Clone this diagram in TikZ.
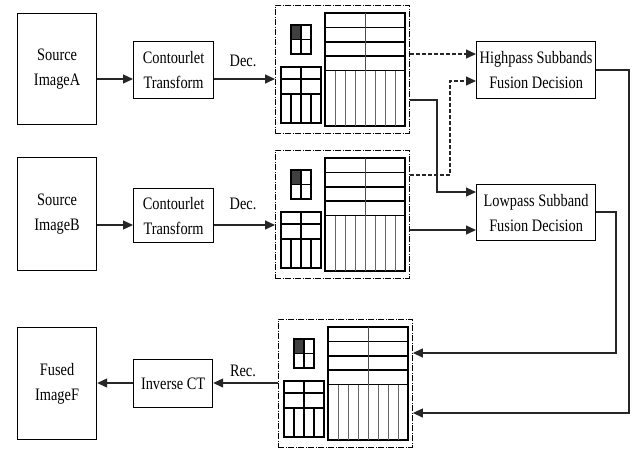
\documentclass[tikz,border=0pt]{standalone}
\usepackage{fontspec}
\setmainfont{Liberation Serif}[FakeStretch=0.82]
\usetikzlibrary{arrows.meta}
\tikzset{
  every node/.style={font=\fontsize{17.5}{25}\selectfont},
  box/.style={draw, line width=1.2pt, align=center, inner sep=0pt, anchor=north west},
  dashbox/.style={draw, line width=0.9pt, dash pattern=on 6pt off 1.5pt on 1pt off 1.5pt,
    anchor=north west, minimum width=134pt, minimum height=128pt, inner sep=0pt},
  arr/.style={line width=1.2pt, black!85, -{Triangle[length=10pt,width=9pt]}},
  darr/.style={arr, dash pattern=on 4pt off 2pt},
  thk/.style={line width=1.2pt},
  mid/.style={line width=0.8pt, black!70},
  thn/.style={line width=0.5pt, black!60},
  lbl/.style={inner sep=0pt},
}
\newcommand\subbandsdraw{%
  % small square
  \fill[black!75] (16,20) rectangle (26,34.5);
  \draw[thk] (16,20) rectangle (36,49);
  \draw[thk] (26,20) -- (26,49) (16,34.5) -- (36,34.5);
  % lower-left block
  \draw[thk] (6,62) rectangle (46,118);
  \draw[thk] (6,74) -- (46,74) (6,89) -- (46,89) (26,62) -- (26,118);
  \draw[thk] (16,89) -- (16,118) (36,89) -- (36,118);
  % big block
  \draw[thk] (50,8) rectangle (130,121);
  \foreach \yy in {22.5,37,51,65.5} {\draw[thk] (50,\yy) -- (130,\yy);}
  \draw[mid] (90,8) -- (90,65.5);
  \foreach \xx in {60,70,...,120} {\draw[thn] (\xx,65.5) -- (\xx,121);}
}
\begin{document}
\begin{tikzpicture}[x=1pt,y=-1pt]
\useasboundingbox (0,0) rectangle (632,451);
% nodes
\node[box, minimum width=79pt, minimum height=111pt] (srcA) at (17,13) {Source\\ImageA};
\node[box, minimum width=80pt, minimum height=57pt] (ctA) at (133,41) {Contourlet\\Transform};
\node[box, minimum width=79pt, minimum height=113pt] (srcB) at (17,157) {Source\\ImageB};
\node[box, minimum width=80pt, minimum height=54pt] (ctB) at (133,188) {Contourlet\\Transform};
\node[box, minimum width=79pt, minimum height=112pt] (fused) at (17,327) {Fused\\ImageF};
\node[box, minimum width=79pt, minimum height=48pt] (ict) at (133,359) {Inverse CT};
\node[box, minimum width=119pt, minimum height=57pt] (high) at (476,41) {Highpass Subbands\\Fusion Decision};
\node[box, minimum width=119pt, minimum height=56pt] (low) at (476,184) {Lowpass Subband\\Fusion Decision};
\node[dashbox] (m1) at (275,5) {};
\node[dashbox] (m2) at (275,150) {};
\node[dashbox] (m3) at (278,319) {};
\begin{scope}[shift={(275,5)}]\subbandsdraw\end{scope}
\begin{scope}[shift={(275,150)}]\subbandsdraw\end{scope}
\begin{scope}[shift={(278,319)}]\subbandsdraw\end{scope}
% labels
\node[lbl] (decA) at (243,61) {Dec.};
\node[lbl] (decB) at (243,204) {Dec.};
\node[lbl] (rec) at (243,371) {Rec.};
% level coordinates
\coordinate (yA) at (0,79);
\coordinate (yB) at (0,225);
\coordinate (yF) at (0,383);
\coordinate (h1) at (0,54);
\coordinate (h2) at (0,81);
\coordinate (d2) at (0,175);
\coordinate (s1) at (0,100);
\coordinate (l1) at (0,192);
\coordinate (l2) at (0,230);
\coordinate (ho) at (0,70);
\coordinate (lo) at (0,212);
\coordinate (r1) at (0,353);
\coordinate (r2) at (0,413);
% connectors
\draw[arr] (srcA.east |- yA) -- (ctA.west |- yA);
\draw[arr] (ctA.east |- yA) -- (m1.west |- yA);
\draw[arr] (srcB.east |- yB) -- (ctB.west |- yB);
\draw[arr] (ctB.east |- yB) -- (m2.west |- yB);
\draw[arr] (m3.west |- yF) -- (ict.east |- yF);
\draw[arr] (ict.west |- yF) -- (fused.east |- yF);
\draw[darr] (m1.east |- h1) -- (high.west |- h1);
\draw[darr] (m2.east |- d2) -- (450,175) -- (450,81) -- (high.west |- h2);
\draw[arr] (m1.east |- s1) -- (437,100) -- (437,192) -- (low.west |- l1);
\draw[arr] (m2.east |- l2) -- (low.west |- l2);
\draw[arr] (high.east |- ho) -- (629,70) -- (629,413) -- (m3.east |- r2);
\draw[arr] (low.east |- lo) -- (616,212) -- (616,353) -- (m3.east |- r1);
\end{tikzpicture}
\end{document}
